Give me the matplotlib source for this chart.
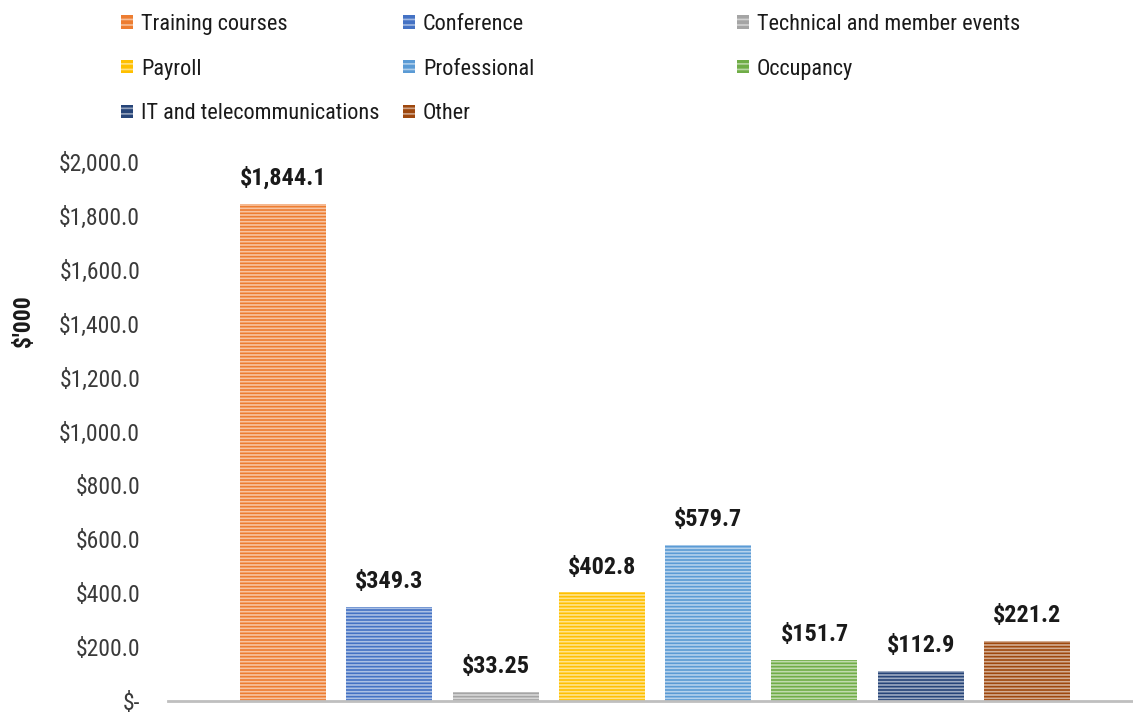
import matplotlib
matplotlib.use("Agg")
import matplotlib.pyplot as plt
from matplotlib import font_manager
from matplotlib.patches import Patch
import matplotlib.colors as mcolors

categories = ["Training courses", "Conference", "Technical and member events",
              "Payroll", "Professional", "Occupancy",
              "IT and telecommunications", "Other"]
values = [1844.1, 349.3, 33.25, 402.8, 579.7, 151.7, 112.9, 221.2]
value_labels = ["$1,844.1", "$349.3", "$33.25", "$402.8", "$579.7", "$151.7", "$112.9", "$221.2"]
colors = ["#ED7D31", "#4472C4", "#A5A5A5", "#FFC000", "#5B9BD5", "#70AD47", "#264478", "#9E480E"]
yticks = [0, 200, 400, 600, 800, 1000, 1200, 1400, 1600, 1800, 2000]
ytick_labels = ["$-", "$200.0", "$400.0", "$600.0", "$800.0", "$1,000.0", "$1,200.0",
                "$1,400.0", "$1,600.0", "$1,800.0", "$2,000.0"]

names = {f.name for f in font_manager.fontManager.ttflist}
family = "Roboto"
for cand in ["Roboto Condensed", "Liberation Sans Narrow", "Roboto"]:
    if cand in names:
        family = cand
        break
plt.rcParams["font.family"] = [family, "DejaVu Sans"]
plt.rcParams["hatch.linewidth"] = 1.2

W, H = 1133, 713
fig = plt.figure(figsize=(W / 100, H / 100), dpi=100)
ax = fig.add_axes([168 / W, (H - 701) / H, (W - 168) / W, (701 - 162) / H])

def lighten(c, f):
    r, g, b = mcolors.to_rgb(c)
    return (r + (1 - r) * f, g + (1 - g) * f, b + (1 - b) * f)

x = list(range(len(categories)))
for i, (v, c) in enumerate(zip(values, colors)):
    ax.bar(i, v, width=0.81, color=c, edgecolor=lighten(c, 0.55), hatch="-----",
           linewidth=0, zorder=2)
    ax.annotate(value_labels[i], (i, v), xytext=(0, 10), textcoords="offset points",
                ha="center", va="bottom", fontsize=17.5, fontweight="bold", color="#1a1a1a")

ax.set_xlim(-1.082, 7.997)
ax.set_ylim(0, 2000)
ax.set_yticks(yticks)
ax.set_yticklabels(ytick_labels, fontsize=17, color="#3a3a3a")
ax.set_xticks([])
ax.tick_params(axis="y", length=0, pad=20)
for s in ["top", "right", "left"]:
    ax.spines[s].set_visible(False)
ax.spines["bottom"].set_color("#BFBFBF")
ax.spines["bottom"].set_linewidth(2)
ax.spines["bottom"].set_zorder(3)

fig.text(23 / W, 1 - 321 / H, "$'000", rotation=90, ha="center", va="center",
         fontsize=17, fontweight="bold", color="#1a1a1a")

# legend in three columns, row-major order
col_x = [121, 403, 737]
cols = [[0, 3, 6], [1, 4, 7], [2, 5]]
for cx, idxs in zip(col_x, cols):
    handles = [Patch(facecolor=colors[k], edgecolor=lighten(colors[k], 0.5), hatch="---",
                     linewidth=0) for k in idxs]
    labs = [categories[k] for k in idxs]
    fig.legend(handles, labs, loc="upper left", bbox_to_anchor=(cx / W, 1 - 14 / H),
               frameon=False, fontsize=16, handlelength=0.55, handleheight=0.55,
               handletextpad=0.35, labelspacing=1.06, borderaxespad=0, borderpad=0,
               labelcolor="#1a1a1a")

fig.savefig("out.png", dpi=100)
